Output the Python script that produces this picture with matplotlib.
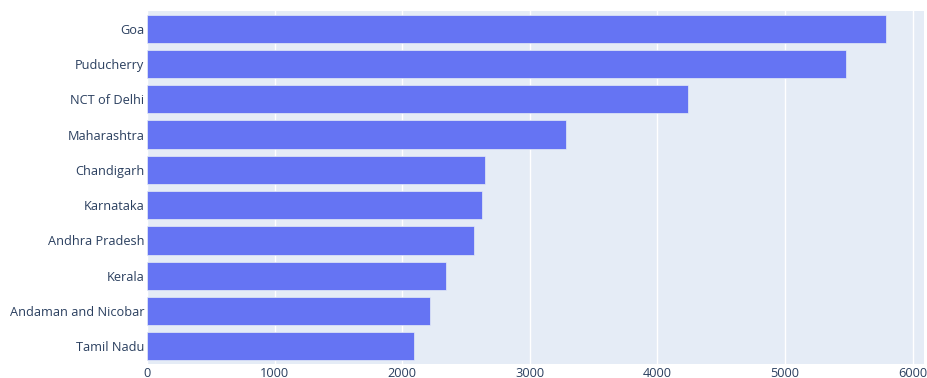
import matplotlib
matplotlib.use("Agg")
import matplotlib.pyplot as plt

states = ["Goa", "Puducherry", "NCT of Delhi", "Maharashtra", "Chandigarh",
          "Karnataka", "Andhra Pradesh", "Kerala", "Andaman and Nicobar", "Tamil Nadu"]
values = [5790, 5477, 4243, 3286, 2653, 2623, 2565, 2342, 2218, 2092]
xticks = [0, 1000, 2000, 3000, 4000, 5000, 6000]

plt.rcParams['font.family'] = ['Open Sans', 'DejaVu Sans']
fig = plt.figure(figsize=(9.27, 3.78), dpi=100)
ax = fig.add_axes([147/927, 14/378, 777/927, 353/378])
ax.set_facecolor('#E5ECF6')

ypos = list(range(len(states)))[::-1]
ax.barh(ypos, values, height=0.8, color='#6574F3', edgecolor='#E5ECF6', linewidth=0.5, zorder=3)

ax.set_xlim(0, 6090)
ax.set_ylim(-0.5, len(states) - 0.5)
ax.set_yticks(ypos)
ax.set_yticklabels(states)
ax.set_xticks(xticks)
ax.set_xticklabels([str(t) for t in xticks])
ax.grid(axis='x', color='white', linewidth=1, zorder=0)
ax.set_axisbelow(True)
for s in ax.spines.values():
    s.set_visible(False)
ax.tick_params(axis='both', length=0, labelsize=9.15, colors='#2a3f5f')
ax.tick_params(axis='y', pad=2)
ax.tick_params(axis='x', pad=2)

fig.savefig("out.png", dpi=100, facecolor='white')
